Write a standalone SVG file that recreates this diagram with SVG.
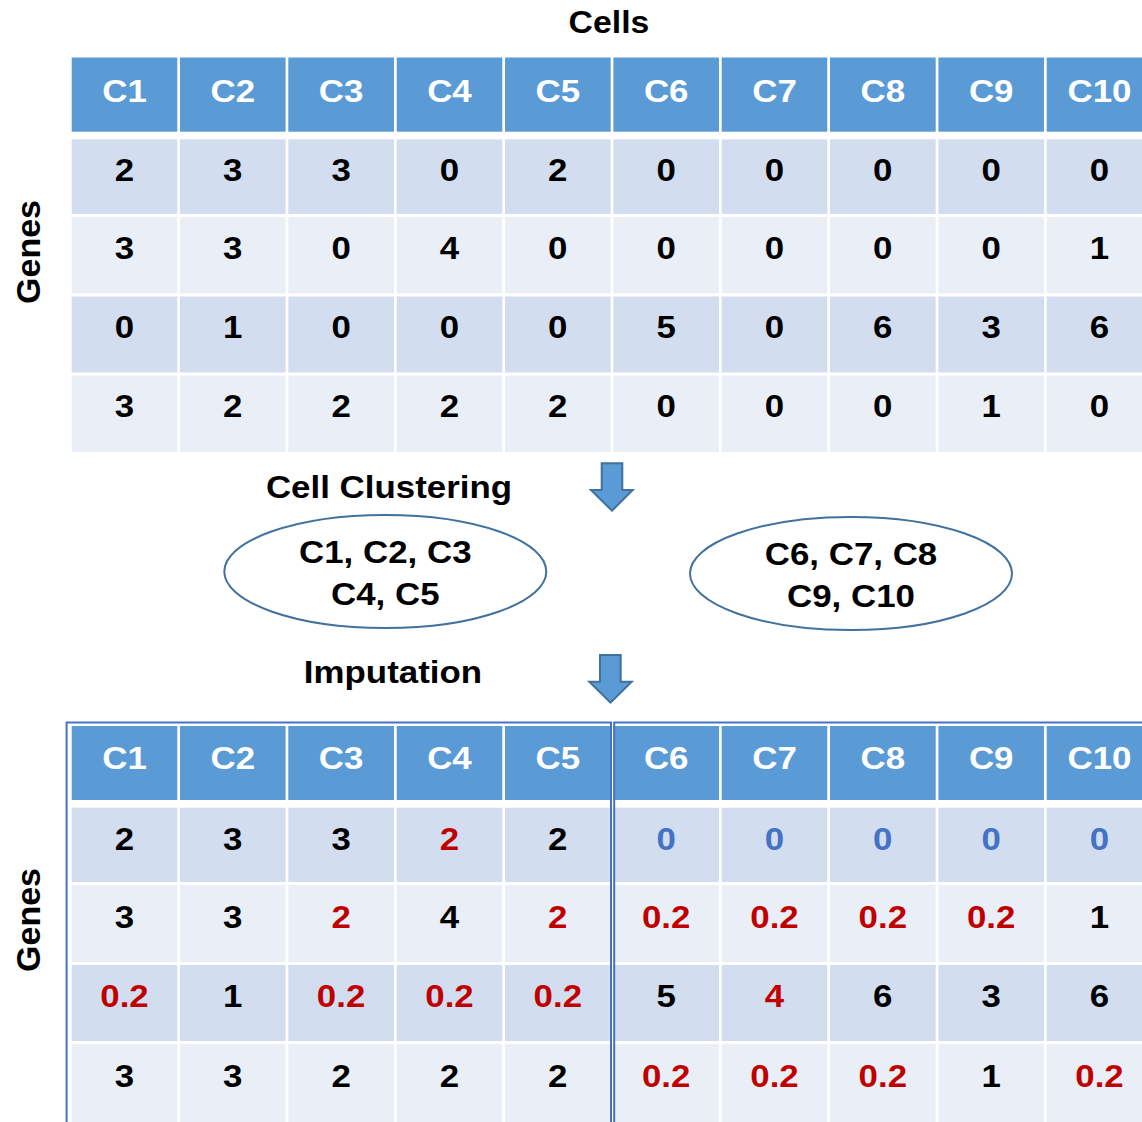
<svg xmlns="http://www.w3.org/2000/svg" width="1142" height="1122" viewBox="0 0 1142 1122">
  <style>
    text { font-family: "Liberation Sans", Arial, sans-serif; font-weight: bold; font-size: 32px; text-anchor: middle; }
    .s { transform-box: fill-box; transform-origin: center; transform: scaleX(1.09); }
    .hd { fill: #FFFFFF; }
    .k { fill: #000000; }
    .r { fill: #C00000; }
    .b { fill: #4472C4; }
    .band-h { fill: #5B9BD5; }
    .band-a { fill: #D2DEEF; }
    .band-b { fill: #EAEFF7; }
    .sep { fill: #FFFFFF; }
    .cluster { fill: #FFFFFF; stroke: #41719C; stroke-width: 2; }
    .arrow { fill: #5B9BD5; stroke: #41719C; stroke-width: 2; stroke-linejoin: miter; }
    .frame { fill: none; stroke: #4472C4; stroke-width: 2; }
  </style>
  <defs>
    <!-- white column separators, reused for both tables -->
    <g id="colseps">
      <rect class="sep" x="177.3" y="0" width="2.7" height="400"/>
      <rect class="sep" x="285.6" y="0" width="2.7" height="400"/>
      <rect class="sep" x="394.0" y="0" width="2.7" height="400"/>
      <rect class="sep" x="502.3" y="0" width="2.7" height="400"/>
      <rect class="sep" x="610.7" y="0" width="2.7" height="400"/>
      <rect class="sep" x="719.0" y="0" width="2.7" height="400"/>
      <rect class="sep" x="827.3" y="0" width="2.7" height="400"/>
      <rect class="sep" x="935.7" y="0" width="2.7" height="400"/>
      <rect class="sep" x="1044.0" y="0" width="2.7" height="400"/>
    </g>
  </defs>

  <rect x="0" y="0" width="1142" height="1122" fill="#FFFFFF"/>

  <!-- axis labels -->
  <text id="label-cells" class="k s" x="609" y="33" style="font-size:31px">Cells</text>
  <text id="label-genes-top" class="k" x="0" y="0" transform="translate(40 252) rotate(-90)" style="font-size:34px">Genes</text>
  <text id="label-genes-bottom" class="k" x="0" y="0" transform="translate(40 920) rotate(-90)" style="font-size:34px">Genes</text>

  <!-- raw expression matrix -->
  <g id="matrix-raw">
    <rect class="band-h" x="71.7" y="57.5" width="1071" height="74.2"/>
    <rect class="band-a" x="71.7" y="139.3" width="1071" height="74.7"/>
    <rect class="band-b" x="71.7" y="217" width="1071" height="76.5"/>
    <rect class="band-a" x="71.7" y="296.5" width="1071" height="76"/>
    <rect class="band-b" x="71.7" y="375.5" width="1071" height="76.5"/>
    <use href="#colseps" y="57"/>
    <g class="hd">
      <text class="s" x="124.5" y="101.7">C1</text>
      <text class="s" x="232.8" y="101.7">C2</text>
      <text class="s" x="341.1" y="101.7">C3</text>
      <text class="s" x="449.5" y="101.7">C4</text>
      <text class="s" x="557.8" y="101.7">C5</text>
      <text class="s" x="666.2" y="101.7">C6</text>
      <text class="s" x="774.5" y="101.7">C7</text>
      <text class="s" x="882.8" y="101.7">C8</text>
      <text class="s" x="991.2" y="101.7">C9</text>
      <text class="s" x="1099.5" y="101.7">C10</text>
    </g>
    <g class="k">
      <text class="s" x="124.5" y="181">2</text>
      <text class="s" x="232.8" y="181">3</text>
      <text class="s" x="341.1" y="181">3</text>
      <text class="s" x="449.5" y="181">0</text>
      <text class="s" x="557.8" y="181">2</text>
      <text class="s" x="666.2" y="181">0</text>
      <text class="s" x="774.5" y="181">0</text>
      <text class="s" x="882.8" y="181">0</text>
      <text class="s" x="991.2" y="181">0</text>
      <text class="s" x="1099.5" y="181">0</text>

      <text class="s" x="124.5" y="259">3</text>
      <text class="s" x="232.8" y="259">3</text>
      <text class="s" x="341.1" y="259">0</text>
      <text class="s" x="449.5" y="259">4</text>
      <text class="s" x="557.8" y="259">0</text>
      <text class="s" x="666.2" y="259">0</text>
      <text class="s" x="774.5" y="259">0</text>
      <text class="s" x="882.8" y="259">0</text>
      <text class="s" x="991.2" y="259">0</text>
      <text class="s" x="1099.5" y="259">1</text>

      <text class="s" x="124.5" y="338.5">0</text>
      <text class="s" x="232.8" y="338.5">1</text>
      <text class="s" x="341.1" y="338.5">0</text>
      <text class="s" x="449.5" y="338.5">0</text>
      <text class="s" x="557.8" y="338.5">0</text>
      <text class="s" x="666.2" y="338.5">5</text>
      <text class="s" x="774.5" y="338.5">0</text>
      <text class="s" x="882.8" y="338.5">6</text>
      <text class="s" x="991.2" y="338.5">3</text>
      <text class="s" x="1099.5" y="338.5">6</text>

      <text class="s" x="124.5" y="417.5">3</text>
      <text class="s" x="232.8" y="417.5">2</text>
      <text class="s" x="341.1" y="417.5">2</text>
      <text class="s" x="449.5" y="417.5">2</text>
      <text class="s" x="557.8" y="417.5">2</text>
      <text class="s" x="666.2" y="417.5">0</text>
      <text class="s" x="774.5" y="417.5">0</text>
      <text class="s" x="882.8" y="417.5">0</text>
      <text class="s" x="991.2" y="417.5">1</text>
      <text class="s" x="1099.5" y="417.5">0</text>
    </g>
  </g>

  <!-- processing steps -->
  <g id="step-clustering">
    <text class="k s" x="389" y="498">Cell Clustering</text>
  </g>
  <g id="step-imputation">
    <text class="k s" x="393" y="683">Imputation</text>
  </g>

  <!-- cell clusters -->
  <g id="cluster-1">
    <ellipse class="cluster" cx="385.3" cy="571.5" rx="161" ry="56.5"/>
    <text class="k s" x="385.3" y="563">C1, C2, C3</text>
    <text class="k s" x="385.3" y="605">C4, C5</text>
  </g>
  <g id="cluster-2">
    <ellipse class="cluster" cx="851" cy="573.5" rx="161" ry="56.5"/>
    <text class="k s" x="851" y="565">C6, C7, C8</text>
    <text class="k s" x="851" y="607">C9, C10</text>
  </g>

  <!-- flow arrows -->
  <g id="connectors">
    <path class="arrow" d="M601.7,463.3 H622.3 V490 H632.7 L612,510.7 L591,490 H601.7 Z"/>
    <path class="arrow" d="M600,655 H620.7 V681.7 H631.7 L610.5,702.7 L589.3,681.7 H600 Z"/>
  </g>

  <!-- imputed matrix -->
  <g id="matrix-imputed">
    <rect class="band-h" x="71.7" y="726" width="1071" height="74"/>
    <rect class="band-a" x="71.7" y="807.7" width="1071" height="74.3"/>
    <rect class="band-b" x="71.7" y="885" width="1071" height="77"/>
    <rect class="band-a" x="71.7" y="965" width="1071" height="76"/>
    <rect class="band-b" x="71.7" y="1044" width="1071" height="78"/>
    <use href="#colseps" y="726"/>
    <g class="hd">
      <text class="s" x="124.5" y="769">C1</text>
      <text class="s" x="232.8" y="769">C2</text>
      <text class="s" x="341.1" y="769">C3</text>
      <text class="s" x="449.5" y="769">C4</text>
      <text class="s" x="557.8" y="769">C5</text>
      <text class="s" x="666.2" y="769">C6</text>
      <text class="s" x="774.5" y="769">C7</text>
      <text class="s" x="882.8" y="769">C8</text>
      <text class="s" x="991.2" y="769">C9</text>
      <text class="s" x="1099.5" y="769">C10</text>
    </g>
    <g>
      <text class="k s" x="124.5" y="850">2</text>
      <text class="k s" x="232.8" y="850">3</text>
      <text class="k s" x="341.1" y="850">3</text>
      <text class="r s" x="449.5" y="850">2</text>
      <text class="k s" x="557.8" y="850">2</text>
      <text class="b s" x="666.2" y="850">0</text>
      <text class="b s" x="774.5" y="850">0</text>
      <text class="b s" x="882.8" y="850">0</text>
      <text class="b s" x="991.2" y="850">0</text>
      <text class="b s" x="1099.5" y="850">0</text>

      <text class="k s" x="124.5" y="928">3</text>
      <text class="k s" x="232.8" y="928">3</text>
      <text class="r s" x="341.1" y="928">2</text>
      <text class="k s" x="449.5" y="928">4</text>
      <text class="r s" x="557.8" y="928">2</text>
      <text class="r s" x="666.2" y="928">0.2</text>
      <text class="r s" x="774.5" y="928">0.2</text>
      <text class="r s" x="882.8" y="928">0.2</text>
      <text class="r s" x="991.2" y="928">0.2</text>
      <text class="k s" x="1099.5" y="928">1</text>

      <text class="r s" x="124.5" y="1007">0.2</text>
      <text class="k s" x="232.8" y="1007">1</text>
      <text class="r s" x="341.1" y="1007">0.2</text>
      <text class="r s" x="449.5" y="1007">0.2</text>
      <text class="r s" x="557.8" y="1007">0.2</text>
      <text class="k s" x="666.2" y="1007">5</text>
      <text class="r s" x="774.5" y="1007">4</text>
      <text class="k s" x="882.8" y="1007">6</text>
      <text class="k s" x="991.2" y="1007">3</text>
      <text class="k s" x="1099.5" y="1007">6</text>

      <text class="k s" x="124.5" y="1087">3</text>
      <text class="k s" x="232.8" y="1087">3</text>
      <text class="k s" x="341.1" y="1087">2</text>
      <text class="k s" x="449.5" y="1087">2</text>
      <text class="k s" x="557.8" y="1087">2</text>
      <text class="r s" x="666.2" y="1087">0.2</text>
      <text class="r s" x="774.5" y="1087">0.2</text>
      <text class="r s" x="882.8" y="1087">0.2</text>
      <text class="k s" x="991.2" y="1087">1</text>
      <text class="r s" x="1099.5" y="1087">0.2</text>
    </g>
    <!-- cluster frames -->
    <rect class="frame" x="66.6" y="722.5" width="544.4" height="420"/>
    <rect class="frame" x="614.2" y="722.5" width="600" height="420"/>
  </g>
</svg>
